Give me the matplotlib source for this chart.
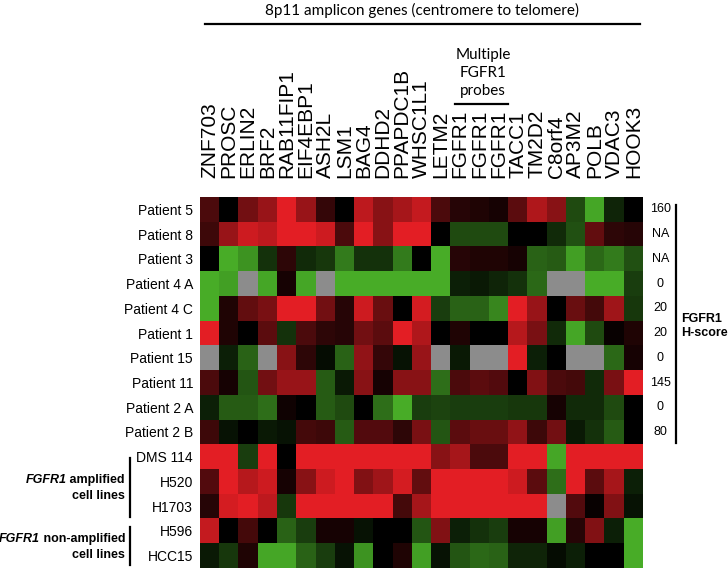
"""Heatmap of 8p11 amplicon gene expression with FGFR1 H-scores."""

import matplotlib

matplotlib.use("Agg")

import matplotlib.pyplot as plt
import numpy as np
from matplotlib.colors import LinearSegmentedColormap

GENES = [
    "ZNF703", "PROSC", "ERLIN2", "BRF2", "RAB11FIP1", "EIF4EBP1", "ASH2L",
    "LSM1", "BAG4", "DDHD2", "PPAPDC1B", "WHSC1L1", "LETM2", "FGFR1",
    "FGFR1", "FGFR1", "TACC1", "TM2D2", "C8orf4", "AP3M2", "POLB", "VDAC3",
    "HOOK3",
]
SAMPLES = [
    "Patient 5", "Patient 8", "Patient 3", "Patient 4 A", "Patient 4 C",
    "Patient 1", "Patient 15", "Patient 11", "Patient 2 A", "Patient 2 B",
    "DMS 114", "H520", "H1703", "H596", "HCC15",
]
H_SCORES = ["160", "NA", "NA", "0", "20", "20", "0", "145", "0", "80"]

nan = np.nan
# relative expression, green (low) -> black -> red (high); nan = no data
PATIENT_5 = [1, 0, 1.5, 2, 3, 2, 0.7, 0, 2.5, 1.8, 2.2, 2.6, 1, 0.5, 0.4, 0.3, 1.2, 2.3, 1.8, -1.2, -2.7, -0.6, 0]
PATIENT_8 = [0.8, 2, 2.7, 2.5, 3, 3, 2.7, 1, 3, 1.8, 3, 3, 0, -1.2, -1.2, -1.2, 0, 0, -0.7, -1.3, 1.3, 0.6, 0.5]
PATIENT_3 = [0, -2.8, -2.4, -0.8, 0.6, -0.7, -0.9, -2, -0.8, -0.8, -2, 0, -2.8, 0.5, 0.4, 0.4, 0.3, -1.6, -1.5, -2.6, -1.7, -2, -1.3]
PATIENT_4A = [-2.8, -2.6, nan, -2.7, 0.3, -2.7, nan, -2.8, -2.8, -2.8, -2.8, -2.8, -2.8, -0.5, -0.4, -0.6, -0.8, -1.7, nan, nan, -2.8, -2.8, -1.0]
PATIENT_4C = [-2.8, 0.4, 1.3, 1.6, 3, 3, 1.5, 0.5, 2.7, 1.4, 0, 2.8, -1, -1.6, -1.6, -2.2, 3, 2, 0, 1.4, 0.9, 2.1, -0.9]
PATIENT_1 = [3, 0.4, 0, 1.2, -0.8, 1, 0.6, 0.5, 1.5, 1.2, 3, 2.3, 0, 0.4, 0, 0, 2.4, 1.6, -0.7, -2.7, -1.2, 0.1, 0.4]
PATIENT_15 = [nan, -0.5, -1.6, nan, 1.8, 0.6, -0.2, -1.6, 1.9, 0.7, -0.3, 2, nan, -0.4, nan, nan, 3, -0.5, 0, nan, nan, -1.7, 0.3]
PATIENT_11 = [1, 0.3, -1.4, 1.5, 2, 2, -1.5, -0.4, 1.8, 0.3, 1.8, 1.8, -1.8, 1, 1.2, 1.1, 0, 1.7, 1, 0.9, -0.7, 1.6, 3]
PATIENT_2A = [-0.5, -1.5, -1.5, -1.8, 0.2, 0, -1.5, -1.2, 0, -1.8, -2.8, -1, -1.1, -1, -1, -1, -0.9, -0.9, 0.3, -0.7, -0.7, -1.2, 0]
PATIENT_2B = [0.8, -0.3, 0, -0.4, -0.3, 0.9, 0.8, -1.5, 1.1, 1.1, 0.6, 1.6, -1.4, 1.2, 1.4, 1.4, 1.9, 0.8, 1.5, -0.4, -0.8, -1.5, 0]
DMS_114 = [3, 3, -1, 3, 0, 3, 3, 3, 3, 3, 3, 3, 1.8, 2.2, 1.0, 1.0, 3, 3, -2.7, 3, 3, 3, 3]
H520 = [1.1, 3, 2.4, 2.7, 0.3, 1.8, 2.7, 3, 1.7, 2.1, 2.8, 1.3, 3, 3, 3, 3, 2.7, 1.2, -1.8, 3, 1.2, 2.2, -0.5]
H1703 = [0.5, 2.8, 3, 2.5, -0.9, 3, 3, 3, 3, 3, 0.9, 2.2, 3, 3, 3, 3, 3, 3, nan, 1.1, 0.1, 1.7, -0.3]
H596 = [2.6, 0, 0.9, 0, -1.6, -1.0, 0.3, 0.3, -0.3, 0, 0, -1.4, 1.7, -0.5, -0.8, -1.0, 0.3, 0.3, -2.6, 0.5, 1.7, -0.5, -2.8]
HCC15 = [-0.4, -0.9, 0.4, -2.7, -2.7, -1.6, -1.0, -0.3, -2.4, 0, 0.4, -2.6, -0.3, -1.4, -1.7, -1.6, -0.6, -0.6, -0.2, -0.5, 0, 0, -2.8]

ROWS = [
    PATIENT_5, PATIENT_8, PATIENT_3, PATIENT_4A, PATIENT_4C, PATIENT_1,
    PATIENT_15, PATIENT_11, PATIENT_2A, PATIENT_2B, DMS_114, H520, H1703,
    H596, HCC15,
]

W, H = 728, 569
HUMANIST = ["Lato", "DejaVu Sans"]
ARIAL = ["Liberation Sans", "DejaVu Sans"]


def fx(px):
    return px / W


def fy(px):
    return 1 - px / H


def main():
    data = np.array(ROWS, dtype=float)
    cmap = LinearSegmentedColormap.from_list(
        "gkr", ["#4DB82A", "#000000", "#E31E24"]
    )
    cmap.set_bad("#8C8C8C")

    fig = plt.figure(figsize=(W / 100, H / 100), dpi=100)
    ax = fig.add_axes([fx(200), 1 - 568 / H, fx(643) - fx(200), (568 - 197) / H])
    ax.imshow(
        np.ma.masked_invalid(data),
        cmap=cmap,
        vmin=-3,
        vmax=3,
        aspect="auto",
        interpolation="nearest",
    )
    for side in ax.spines.values():
        side.set_visible(False)

    ax.xaxis.tick_top()
    ax.set_xticks(range(len(GENES)))
    ax.set_xticklabels(GENES, rotation=90, fontsize=15, family=ARIAL)
    ax.tick_params(axis="x", length=0, pad=13.5)
    ax.set_yticks(range(len(SAMPLES)))
    ax.set_yticklabels(SAMPLES, fontsize=10, family=ARIAL)
    ax.tick_params(axis="y", length=0, pad=5)

    # header
    fig.text(fx(422), fy(10), "8p11 amplicon genes (centromere to telomere)",
             ha="center", va="center", fontsize=11, family=HUMANIST)
    fig.add_artist(plt.Line2D([fx(205), fx(640)], [fy(24), fy(24)],
                              color="black", lw=1.6))
    fig.text(fx(483), fy(73), "Multiple\nFGFR1\nprobes", ha="center",
             va="center", fontsize=11, family=HUMANIST, linespacing=1.4)
    fig.add_artist(plt.Line2D([fx(455), fx(508)], [fy(104), fy(104)],
                              color="black", lw=1.6))

    # H-score column
    for i, score in enumerate(H_SCORES):
        ax.annotate(score, xy=(1, i), xycoords=("axes fraction", "data"),
                    xytext=(12.5, 0), textcoords="offset points",
                    ha="center", va="center", fontsize=9, family=ARIAL)
    fig.add_artist(plt.Line2D([fx(676), fx(676)], [fy(205), fy(443)],
                              color="black", lw=1.6))
    fig.text(fx(681), fy(326), "FGFR1\nH-score", ha="left", va="center",
             fontsize=9, weight="bold", family=ARIAL, linespacing=1.3)

    # cell line groups
    groups = [(" amplified", 480, 458, 517), (" non-amplified", 539, 527, 565)]
    for suffix, ytxt, y0, y1 in groups:
        rest = fig.text(fx(125), fy(ytxt), suffix, ha="right", va="center",
                        fontsize=9, weight="bold", family=ARIAL)
        ax.annotate("FGFR1", xy=(0, 0), xycoords=rest, ha="right", va="bottom",
                    fontsize=9, weight="bold", style="italic", family=ARIAL,
                    annotation_clip=False)
        fig.text(fx(125), fy(ytxt + 16), "cell lines", ha="right", va="center",
                 fontsize=9, weight="bold", family=ARIAL)
        fig.add_artist(plt.Line2D([fx(130), fx(130)], [fy(y0), fy(y1)],
                                  color="black", lw=1.6))

    fig.savefig("out.png", dpi=100)
    plt.close(fig)


if __name__ == "__main__":
    main()
